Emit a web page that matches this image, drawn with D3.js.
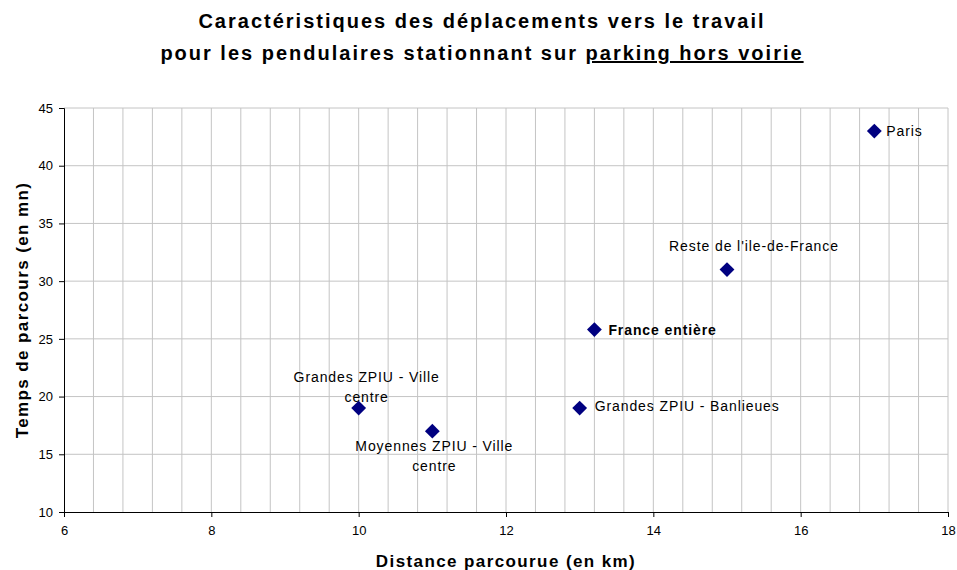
<!DOCTYPE html>
<html>
<head>
<meta charset="utf-8">
<script src="https://cdn.jsdelivr.net/npm/d3@7"></script>
<style>
  body { margin: 0; background: #fff; }
  text { font-family: "Liberation Sans", Arial, sans-serif; }
</style>
</head>
<body>
<svg id="chart"></svg>
<script>
// Data
let labels = ["Paris", "Reste de l'ile-de-France", "France entière", "Grandes ZPIU - Banlieues", "Grandes ZPIU - Ville centre", "Moyennes ZPIU - Ville centre"];
let distance = [17, 15, 13.2, 13, 10, 11];
let duree = [43, 31, 25.8, 19, 19, 17];
let xTicks = [6, 8, 10, 12, 14, 16, 18];
let yTicks = [10, 15, 20, 25, 30, 35, 40, 45];

let width = 957, height = 570;
let margin = {top: 108, right: 9, bottom: 58, left: 64};

let svg = d3.select("#chart")
  .attr("width", width)
  .attr("height", height);

let x = d3.scaleLinear().domain([6, 18]).range([margin.left, width - margin.right]);
let y = d3.scaleLinear().domain([10, 45]).range([height - margin.bottom, margin.top]);

// Title
let title = svg.append("text")
  .attr("text-anchor", "middle")
  .attr("font-weight", "bold")
  .attr("font-size", "20px")
  .attr("letter-spacing", "2px")
  .attr("fill", "#000");
title.append("tspan").attr("x", 482).attr("y", 28).text("Caractéristiques des déplacements vers le travail");
let t2 = title.append("tspan").attr("x", 482).attr("y", 60);
t2.append("tspan").text("pour les pendulaires stationnant sur ");
t2.append("tspan").attr("text-decoration", "underline").text("parking hors voirie");

// Grid
let grid = svg.append("g");
grid.selectAll("line.v").data(d3.range(6.4, 18.01, 0.4)).join("line")
  .attr("x1", d => x(d)).attr("x2", d => x(d))
  .attr("y1", y(10)).attr("y2", y(45))
  .attr("stroke", "#c4c4c4").attr("stroke-width", 1);
grid.selectAll("line.h").data(yTicks.slice(1)).join("line")
  .attr("x1", x(6)).attr("x2", x(18))
  .attr("y1", d => y(d)).attr("y2", d => y(d))
  .attr("stroke", "#c4c4c4").attr("stroke-width", 1);

// Axes
let xAxis = svg.append("g")
  .attr("transform", "translate(0," + y(10) + ")")
  .call(d3.axisBottom(x).tickValues(xTicks).tickSizeOuter(0).tickSize(5).tickPadding(9));
let yAxis = svg.append("g")
  .attr("transform", "translate(" + x(6) + ",0)")
  .call(d3.axisLeft(y).tickValues(yTicks).tickSizeOuter(0).tickSize(5).tickPadding(6));
[xAxis, yAxis].forEach(a => {
  a.selectAll("text").attr("font-size", "13px").attr("fill", "#000")
    .attr("font-family", "'Liberation Sans', Arial, sans-serif");
  a.select(".domain").attr("stroke", "#000");
  a.selectAll(".tick line").attr("stroke", "#000");
});

// Axis titles
svg.append("text")
  .attr("x", (x(6) + x(18)) / 2).attr("y", 567)
  .attr("text-anchor", "middle").attr("font-weight", "bold").attr("font-size", "17px")
  .attr("letter-spacing", "1.4px")
  .text("Distance parcourue (en km)");
svg.append("text")
  .attr("transform", "translate(28," + y(27.5) + ") rotate(-90)")
  .attr("text-anchor", "middle").attr("font-weight", "bold").attr("font-size", "17px")
  .attr("letter-spacing", "1.4px")
  .text("Temps de parcours (en mn)");

// Points
let pts = labels.map((l, i) => ({label: l, x: distance[i], y: duree[i]}));
svg.append("g").selectAll("path").data(pts).join("path")
  .attr("d", d3.symbol().type(d3.symbolSquare).size(110))
  .attr("transform", d => "translate(" + x(d.x) + "," + y(d.y) + ") rotate(45)")
  .attr("fill", "#000080");

// Point labels
let labelPos = {
  "Paris": {dx: 12, dy: 5, anchor: "start", lines: ["Paris"]},
  "Reste de l'ile-de-France": {dx: 27, dy: -19, anchor: "middle", lines: ["Reste de l'ile-de-France"]},
  "France entière": {dx: 14, dy: 5, anchor: "start", lines: ["France entière"], bold: true},
  "Grandes ZPIU - Banlieues": {dx: 15, dy: 3, anchor: "start", lines: ["Grandes ZPIU - Banlieues"]},
  "Grandes ZPIU - Ville centre": {dx: 8, dy: -26, anchor: "middle", lines: ["Grandes ZPIU - Ville", "centre"]},
  "Moyennes ZPIU - Ville centre": {dx: 2, dy: 20, anchor: "middle", lines: ["Moyennes ZPIU - Ville", "centre"]}
};
let lbl = svg.append("g").selectAll("text").data(pts).join("text")
  .attr("text-anchor", d => labelPos[d.label].anchor)
  .attr("font-size", "14px")
  .attr("letter-spacing", "0.9px")
  .attr("font-weight", d => labelPos[d.label].bold ? "bold" : "normal")
  .attr("fill", "#000");
lbl.each(function(d) {
  let p = labelPos[d.label];
  let px = x(d.x) + p.dx, py = y(d.y) + p.dy;
  p.lines.forEach((line, i) => {
    d3.select(this).append("tspan").attr("x", px).attr("y", py + i * 20).text(line);
  });
});
</script>
</body>
</html>
